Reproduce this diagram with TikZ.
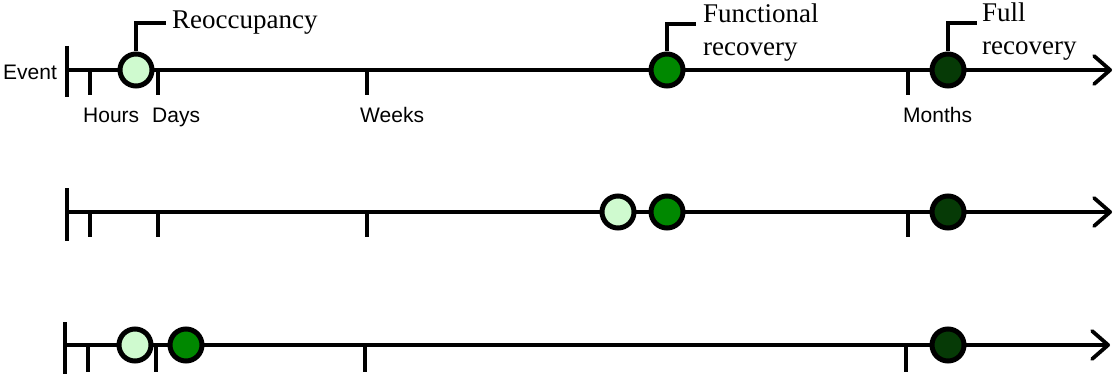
\documentclass[tikz,border=0pt]{standalone}
\usepackage{fontspec}
\setmainfont{Liberation Serif}
\setsansfont{Liberation Sans}
\usetikzlibrary{arrows.meta}
\definecolor{lightg}{RGB}{207,250,207}
\definecolor{midg}{RGB}{0,136,0}
\definecolor{darkg}{RGB}{6,58,6}
\begin{document}
\begin{tikzpicture}[x=1pt,y=-1pt,
  axis/.style={line width=3.8pt, -{Straight Barb[length=16pt,width=28pt,round]}},
  tickmark/.style={line width=3.8pt},
  leader/.style={line width=3.8pt},
  evt/.style={circle, draw=black, line width=5pt, minimum size=32pt, inner sep=0pt},
  lbl/.style={font=\sffamily\fontsize{21}{25}\selectfont, anchor=base west, inner sep=0pt},
  ann/.style={font=\fontsize{27}{33}\selectfont, align=left, anchor=north west, inner sep=0pt}]
\useasboundingbox (0,0) rectangle (1115,374);

% ---------- row 1 ----------
\coordinate (s1) at (67,70);
\coordinate (e1) at (1112,70);
\draw[axis] (s1) -- (e1);
\draw[tickmark] (67,46) -- (67,97);
\draw[tickmark] (90,70) -- (90,95);
\draw[tickmark] (158,70) -- (158,95);
\draw[tickmark] (367,70) -- (367,95);
\draw[tickmark] (908,70) -- (908,95);
\node[lbl] (ev) at (3,80) {Event};
\node[lbl] (hr) at (83,123) {Hours};
\node[lbl] (dy) at (152,123) {Days};
\node[lbl] (wk) at (360,123) {Weeks};
\node[lbl] (mo) at (903,123) {Months};
\node[evt, fill=lightg] (r1) at (136,70) {};
\node[evt, fill=midg] (f1) at (667,70) {};
\node[evt, fill=darkg] (u1) at (948,70) {};
\coordinate (rl) at (166,23);
\coordinate (fl) at (696,24);
\coordinate (ul) at (977,23);
\draw[leader] (r1.north) |- (rl);
\draw[leader] (f1.north) |- (fl);
\draw[leader] (u1.north) |- (ul);
\node[ann] (rt) at (172,11) {Reoccupancy};
\node[ann] (ft) at (703,4) {Functional\\recovery};
\node[ann] (ut) at (982,3) {Full\\recovery};

% ---------- row 2 ----------
\coordinate (s2) at (67,212);
\coordinate (e2) at (1112,212);
\draw[axis] (s2) -- (e2);
\draw[tickmark] (67,188) -- (67,241);
\draw[tickmark] (90,212) -- (90,237);
\draw[tickmark] (158,212) -- (158,237);
\draw[tickmark] (367,212) -- (367,237);
\draw[tickmark] (908,212) -- (908,237);
\node[evt, fill=lightg] (r2) at (618,212) {};
\node[evt, fill=midg] (f2) at (667,212) {};
\node[evt, fill=darkg] (u2) at (948,212) {};

% ---------- row 3 ----------
\coordinate (s3) at (65,345);
\coordinate (e3) at (1110,345);
\draw[axis] (s3) -- (e3);
\draw[tickmark] (65,322) -- (65,380);
\draw[tickmark] (88,345) -- (88,372);
\draw[tickmark] (156,345) -- (156,372);
\draw[tickmark] (365,345) -- (365,372);
\draw[tickmark] (906,345) -- (906,372);
\node[evt, fill=lightg] (r3) at (135,345) {};
\node[evt, fill=midg] (f3) at (186,345) {};
\node[evt, fill=darkg] (u3) at (948,345) {};
\end{tikzpicture}
\end{document}
